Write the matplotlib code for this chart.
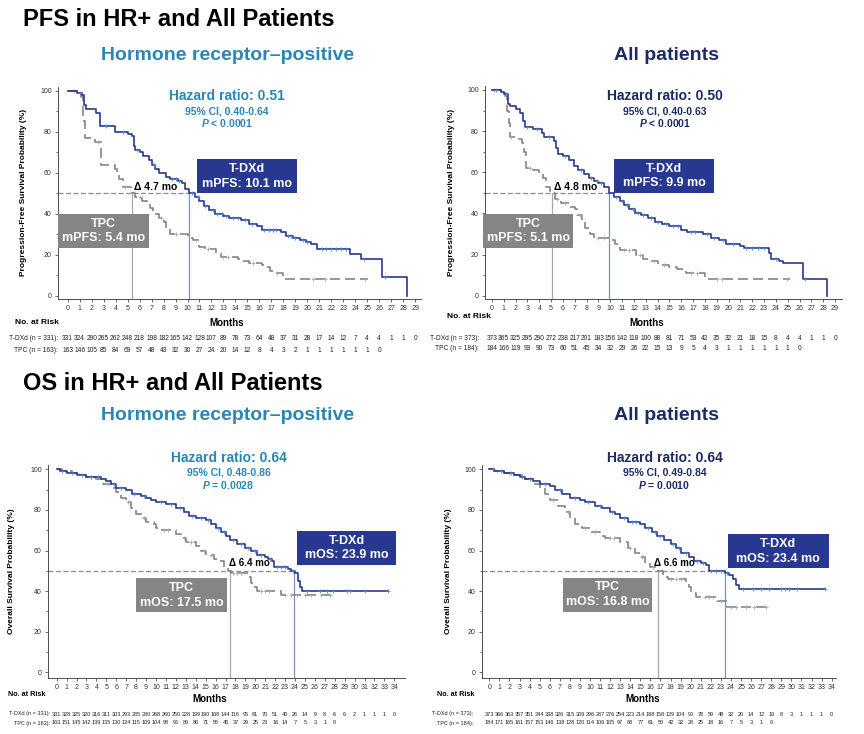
import matplotlib
matplotlib.use("Agg")
import matplotlib.pyplot as plt
import matplotlib.transforms as mtransforms
from matplotlib.patches import Rectangle
import numpy as np

plt.rcParams["font.family"] = ["Liberation Sans", "DejaVu Sans"]
plt.rcParams["mathtext.fontset"] = "custom"
plt.rcParams["mathtext.it"] = "Liberation Sans:bold:italic"
plt.rcParams["mathtext.rm"] = "Liberation Sans:bold"

# ---- PFS, HR+ ----
pfs_hr_tdxd_t = [0, 0.8, 1.2, 1.35, 1.5, 2.4, 2.7, 3.95, 5.0, 5.35, 5.5, 5.6, 6.0, 6.3, 6.8, 7.0, 7.3, 7.6,
                 8.2, 8.5, 9.2, 9.5, 9.8, 10.1, 10.6, 11.0, 11.4, 11.8, 12.3, 13.0, 13.5, 14.5, 15.1, 15.8,
                 16.2, 17.8, 18.2, 18.8, 19.4, 19.9, 20.3, 20.8, 23.6, 24.5, 26.2, 28.3]
pfs_hr_tdxd_s = [100, 99, 98, 93, 91, 89, 83, 80, 79, 78, 73, 71, 70, 68, 66, 64, 62, 60,
                 58, 57, 56, 55, 52, 50, 48, 46, 44, 42, 40, 39, 38, 37, 35, 34,
                 32, 31, 29, 28, 27, 26, 25, 23, 20.5, 18, 9, 0]
pfs_hr_tpc_t = [0, 1.15, 1.3, 1.45, 2.3, 2.8, 3.95, 4.1, 4.3, 4.6, 5.3, 5.4, 5.6, 6.2, 6.6, 6.9, 7.1, 7.6,
                8.0, 8.2, 8.5, 10.0, 10.2, 10.5, 11.0, 11.5, 12.4, 12.8, 14.2, 14.6, 15.1, 16.2, 16.6,
                16.9, 17.2, 18.0, 25.1]
pfs_hr_tpc_s = [100, 97, 85, 77, 75, 64, 62, 60, 57, 53, 52, 50, 48, 46, 45, 43, 40, 38,
                36, 33, 30, 29, 28, 27, 24, 23, 21, 19, 18, 17, 16, 15, 14,
                12, 11, 8, 8]
pfs_hr_tdxd_cens = [1.0, 3.2, 4.6, 5.8, 7.2, 8.7, 9.0, 9.3, 10.4, 10.9, 11.5, 12.1, 12.5, 12.9, 13.2, 13.8,
                    14.2, 14.8, 15.4, 16.4, 16.8, 17.1, 17.4, 18.4, 18.6, 19.0, 19.6, 20.0, 21.2, 21.6,
                    22.0, 22.4, 22.8, 23.2, 24.7, 26.5]
pfs_hr_tpc_cens = [0.5, 2.5, 4.8, 6.0, 7.8, 9.0, 10.7, 11.7, 13.0, 13.4, 15.5, 17.5, 20.5, 21.5, 24.8]
pfs_hr_risk_tdxd = [331, 324, 290, 265, 262, 248, 218, 198, 182, 165, 142, 128, 107, 89, 78, 73, 64, 48, 37,
                    31, 28, 17, 14, 12, 7, 4, 4, 1, 1, 0]
pfs_hr_risk_tpc = [163, 146, 105, 85, 84, 69, 57, 48, 43, 32, 30, 27, 24, 20, 14, 12, 8, 4, 3, 2, 1, 1, 1,
                   1, 1, 1, 0]

# ---- PFS, all patients ----
pfs_all_tdxd_t = [0, 0.8, 1.0, 1.35, 1.5, 2.0, 2.4, 2.6, 2.8, 3.5, 4.2, 4.4, 5.2, 5.4, 5.6, 6.0, 6.5, 6.9,
                  7.3, 7.8, 8.2, 8.6, 9.0, 9.5, 9.9, 10.3, 10.8, 11.2, 11.6, 12.1, 12.6, 13.2, 13.8, 14.4,
                  15.0, 16.0, 16.5, 17.8, 18.5, 19.2, 19.8, 21.0, 21.3, 23.4, 23.6, 24.3, 24.6, 26.3, 28.3]
pfs_all_tdxd_s = [100, 99, 98, 93, 92, 91, 89, 85, 82, 81, 79, 77, 75, 72, 69, 68, 66, 63,
                  61, 59, 57, 56, 55, 53, 50, 48, 46, 44, 42, 40, 39, 38, 36, 35,
                  34, 32, 31, 30, 28, 27, 25, 24, 23, 21, 18, 17, 16, 8, 0]
pfs_all_tpc_t = [0, 1.1, 1.25, 1.4, 1.5, 2.3, 2.5, 2.7, 2.9, 3.5, 4.0, 4.3, 4.6, 4.9, 5.1, 5.3, 5.8, 6.5,
                 7.0, 7.2, 7.6, 7.9, 8.3, 8.6, 10.0, 10.4, 10.8, 12.2, 12.8, 13.4, 14.0, 15.0, 15.6,
                 16.4, 18.0, 25.2]
pfs_all_tpc_s = [100, 97, 90, 84, 77, 76, 74, 70, 62, 61, 60, 57, 53, 51, 50, 47, 45, 43,
                 42, 39, 36, 33, 30, 28, 27, 25, 22, 20, 18, 17, 15, 14, 13,
                 11, 8, 8]
pfs_all_tdxd_cens = [0.3, 1.2, 3.0, 3.8, 4.8, 6.2, 7.5, 8.4, 8.9, 9.2, 10.5, 11.0, 11.4, 11.9, 12.3, 12.8,
                     13.4, 14.0, 14.7, 15.3, 15.7, 16.8, 17.2, 18.2, 18.8, 19.5, 20.4, 21.5, 22.0, 22.5,
                     23.0, 24.0, 26.5]
pfs_all_tpc_cens = [0.2, 1.6, 3.2, 5.5, 6.2, 7.4, 9.0, 9.5, 11.2, 11.6, 12.5, 13.7, 14.5, 16.8, 17.3,
                    19.0, 19.4, 24.9]
pfs_all_risk_tdxd = [373, 365, 325, 295, 290, 272, 238, 217, 201, 183, 156, 142, 118, 100, 88, 81, 71, 53,
                     42, 35, 32, 21, 18, 15, 8, 4, 4, 1, 1, 0]
pfs_all_risk_tpc = [184, 166, 119, 93, 90, 73, 60, 51, 45, 34, 32, 29, 26, 22, 15, 13, 9, 5, 4, 3, 1, 1, 1,
                    1, 1, 1, 0]

# ---- OS, HR+ ----
os_hr_tdxd_t = [0, 0.3, 1.0, 2.0, 3.0, 4.5, 5.0, 5.5, 6.0, 7.0, 7.6, 8.5, 9.0, 9.5, 10.0, 11.0, 12.0, 12.8,
                13.3, 14.0, 15.0, 15.5, 16.0, 16.5, 17.0, 17.5, 18.2, 19.0, 19.6, 20.2, 21.0, 21.3, 21.7,
                21.9, 23.3, 23.6, 24.0, 24.3, 24.5, 24.7, 33.4]
os_hr_tdxd_s = [100, 99, 98, 97, 96, 95, 94, 93, 91, 90, 88, 87, 86, 85, 84, 83, 81, 79,
                77, 76, 75, 73, 71, 69, 67, 65, 63, 61, 60, 58, 57, 56, 55,
                52, 51, 50, 49, 45, 42, 40, 40]
os_hr_tpc_t = [0, 0.5, 1.5, 2.5, 3.0, 4.0, 4.7, 5.5, 6.0, 6.5, 7.0, 7.5, 8.0, 8.5, 9.0, 9.8, 10.0, 10.5,
               12.0, 12.5, 13.0, 14.0, 14.5, 15.0, 15.8, 16.2, 16.8, 17.3, 17.6, 19.3, 19.6, 19.9, 20.2,
               22.6, 28.0]
os_hr_tpc_s = [100, 99, 98, 97, 96, 95, 93, 91, 89, 86, 84, 81, 78, 76, 74, 73, 71, 70,
               68, 66, 64, 62, 60, 58, 56, 55, 52, 50, 49, 47, 44, 42, 40,
               38, 38]
os_hr_tdxd_cens = [0.5, 1.5, 2.5, 3.5, 4.2, 5.8, 6.5, 7.8, 8.8, 10.5, 11.5, 12.4, 13.6, 14.5, 15.2, 16.2,
                   16.8, 17.8, 18.6, 19.3, 20.0, 20.6, 21.5, 22.2, 22.6, 23.0, 23.8, 25.2, 26.5, 27.2,
                   27.8, 29.2, 29.5, 31.0, 33.4]
os_hr_tpc_cens = [0.8, 2.0, 3.5, 5.2, 7.2, 8.8, 10.8, 11.2, 12.8, 13.5, 14.8, 15.5, 17.8, 18.2, 18.6,
                  20.6, 21.0, 21.4, 23.0, 23.6, 24.2, 25.0, 25.6, 26.6, 27.5]
os_hr_risk_tdxd = [331, 328, 325, 320, 316, 311, 303, 293, 285, 280, 268, 260, 250, 228, 199, 190, 168, 144,
                   116, 95, 81, 70, 51, 40, 26, 14, 9, 8, 6, 6, 2, 1, 1, 1, 0]
os_hr_risk_tpc = [163, 151, 145, 142, 139, 135, 130, 124, 115, 109, 104, 98, 96, 89, 80, 71, 56, 45, 37,
                  29, 25, 23, 16, 14, 7, 5, 3, 1, 0]

# ---- OS, all patients ----
os_all_tdxd_t = [0, 0.5, 1.5, 2.5, 3.0, 3.5, 4.3, 5.0, 6.0, 6.5, 7.2, 8.0, 9.0, 9.5, 10.5, 11.2, 12.0, 12.5,
                 13.0, 13.8, 15.0, 15.5, 16.2, 16.7, 17.3, 18.0, 18.5, 19.0, 19.8, 20.3, 21.0, 21.5, 21.8,
                 23.4, 23.8, 24.2, 24.5, 24.8, 33.3]
os_all_tdxd_s = [100, 99, 98, 97, 96, 95, 94, 93, 92, 90, 88, 86, 85, 84, 82, 81, 79, 78,
                 76, 74, 73, 71, 69, 67, 65, 63, 61, 59, 57, 55, 54, 53, 50,
                 49, 48, 46, 43, 41, 41]
os_all_tpc_t = [0, 0.5, 1.5, 2.5, 3.3, 4.5, 5.0, 5.5, 6.0, 6.8, 7.5, 8.0, 8.5, 9.2, 10.0, 11.0, 11.5, 13.0,
                13.8, 14.5, 15.0, 15.5, 16.0, 16.8, 17.2, 17.7, 19.5, 19.8, 20.0, 20.5, 22.6, 23.6, 28.0]
os_all_tpc_s = [100, 99, 98, 97, 95, 93, 91, 88, 85, 82, 79, 76, 73, 71, 69, 67, 66, 64,
                61, 59, 57, 54, 52, 50, 47, 46, 44, 42, 39, 37, 35, 32, 32]
os_all_tdxd_cens = [0.4, 1.2, 2.2, 3.2, 4.0, 5.5, 7.0, 8.5, 9.8, 11.0, 12.2, 13.4, 14.2, 14.6, 15.8, 16.5,
                    17.0, 18.2, 18.8, 19.5, 20.6, 21.2, 22.0, 22.5, 23.0, 23.6, 25.2, 26.2, 27.0, 27.8,
                    29.0, 29.4, 29.8, 30.6, 33.3]
os_all_tpc_cens = [0.8, 2.0, 3.0, 4.0, 6.3, 7.8, 9.5, 10.5, 12.0, 12.4, 14.0, 15.2, 16.3, 18.0, 18.5,
                   19.0, 21.4, 21.8, 22.2, 23.0, 24.0, 24.5, 25.5, 26.3, 27.5]
os_all_risk_tdxd = [373, 366, 363, 357, 351, 344, 338, 326, 315, 309, 296, 287, 276, 254, 223, 214, 188,
                    158, 129, 104, 90, 78, 59, 48, 32, 20, 14, 12, 10, 8, 3, 1, 1, 1, 0]
os_all_risk_tpc = [184, 171, 165, 161, 157, 153, 146, 138, 128, 120, 114, 106, 105, 97, 88, 77, 61, 50, 42,
                   32, 28, 25, 18, 16, 7, 5, 3, 1, 0]

W, H = 864, 734
NAVY = "#283891"
NAVY_CENS = "#4f86c9"
GRAY = "#858585"
GRAY_CENS = "#a8a8a8"
HRBLUE = "#2b86b8"
ALLNAVY = "#1c2b66"

fig = plt.figure(figsize=(W / 100, H / 100), dpi=100)


def make_axes(px0, sx, py100, py0, xlim, ylim):
    sy = (py0 - py100) / 100.0
    left = px0 + xlim[0] * sx
    right = px0 + xlim[1] * sx
    top = py0 - ylim[1] * sy
    bottom = py0 - ylim[0] * sy
    ax = fig.add_axes([left / W, 1 - bottom / H, (right - left) / W, (bottom - top) / H])
    ax.set_xlim(*xlim)
    ax.set_ylim(*ylim)
    for sp in ("top", "right"):
        ax.spines[sp].set_visible(False)
    for sp in ("left", "bottom"):
        ax.spines[sp].set_linewidth(0.6)
        ax.spines[sp].set_color("#333333")
    ax.set_yticks(range(0, 101, 20))
    ax.set_yticks(range(10, 100, 20), minor=True)
    ax.tick_params(axis="both", which="major", labelsize=5, length=2.5, width=0.5,
                   colors="#333333", pad=2)
    ax.tick_params(axis="y", which="minor", length=1.5, width=0.5, colors="#333333")
    return ax


def ystep(t, s, x):
    i = np.searchsorted(np.asarray(t), np.asarray(x), side="right") - 1
    return np.asarray(s)[i]


def draw_panel(ax, tdxd, tpc, med_tpc, med_tdxd):
    t1, s1, c1 = tdxd
    t2, s2, c2 = tpc
    # median guide lines
    ax.plot([ax.get_xlim()[0], med_tdxd], [50, 50], color="#8c8c8c", lw=0.9,
            dashes=(4, 2), zorder=1)
    ax.plot([med_tpc, med_tpc], [ax.get_ylim()[0], 50], color="#a8a8a8", lw=0.9, zorder=1)
    ax.plot([med_tdxd, med_tdxd], [ax.get_ylim()[0], 50], color="#7f90b8", lw=0.9, zorder=1)
    ax.step(t2, s2, where="post", color=GRAY, lw=1.2, dashes=(6, 3), zorder=2)
    ax.plot(c2, ystep(t2, s2, c2), "+", color=GRAY_CENS, ms=3, mew=0.6, zorder=3)
    ax.step(t1, s1, where="post", color=NAVY, lw=1.2, zorder=4)
    ax.plot(c1, ystep(t1, s1, c1), "+", color=NAVY_CENS, ms=3, mew=0.6, zorder=5)


def add_box(ax, x0, x1, y0, y1, color, txt, size):
    ax.add_patch(Rectangle((x0, y0), x1 - x0, y1 - y0, facecolor=color, edgecolor="none",
                           clip_on=False, zorder=6))
    ax.text((x0 + x1) / 2, (y0 + y1) / 2, txt, color="white", fontsize=size, fontweight="bold",
            ha="center", va="center", linespacing=1.3, zorder=7, clip_on=False)


def add_hr(ax, x, ys, hr, ci, p, color, sizes):
    ax.text(x, ys[0], hr, color=color, fontsize=sizes[0], fontweight="bold", ha="center", va="center")
    ax.text(x, ys[1], ci, color=color, fontsize=sizes[1], fontweight="bold", ha="center", va="center")
    ax.text(x, ys[2], p, color=color, fontsize=sizes[1], fontweight="bold", ha="center", va="center")


def risk_table(ax, xlab_px, rows_px, label_px, months_px, counts, labels, size):
    tr = mtransforms.blended_transform_factory(ax.transData, fig.transFigure)
    for yy, cnt, lab in zip(rows_px, counts, labels):
        for m, v in enumerate(cnt):
            ax.text(m, 1 - yy / H, str(v), transform=tr, fontsize=size, ha="center", va="center",
                    color="#222222", clip_on=False)
        fig.text(xlab_px / W, 1 - yy / H, lab, fontsize=size, ha="right", va="center", color="#222222")
    fig.text(label_px[0] / W, 1 - label_px[1] / H, "No. at Risk", fontsize=size + 1.2,
             fontweight="bold", ha="left", va="center")
    fig.text(months_px[0] / W, 1 - months_px[1] / H, "Months", fontsize=7, fontweight="bold",
             ha="center", va="center")


# section titles
fig.text(23 / W, 1 - 20 / H, "PFS in HR+ and All Patients", fontsize=17, fontweight="bold", va="center")
fig.text(23 / W, 1 - 383 / H, "OS in HR+ and All Patients", fontsize=17, fontweight="bold", va="center")
for yy in (55, 415):
    fig.text(228 / W, 1 - yy / H, "Hormone receptor–positive", fontsize=14, fontweight="bold",
             color=HRBLUE, ha="center", va="center")
    fig.text(666 / W, 1 - yy / H, "All patients", fontsize=14, fontweight="bold",
             color=ALLNAVY, ha="center", va="center")

# ---- top-left ----
ax = make_axes(67.7, 11.98, 90.7, 295.7, (-0.8, 29.5), (-1.6, 102))
ax.set_xticks(range(0, 30))
draw_panel(ax, (pfs_hr_tdxd_t, pfs_hr_tdxd_s, pfs_hr_tdxd_cens),
           (pfs_hr_tpc_t, pfs_hr_tpc_s, pfs_hr_tpc_cens), 5.4, 10.1)
add_box(ax, 10.77, 19.1, 49.9, 66.5, NAVY, "T-DXd\nmPFS: 10.1 mo", 9)
add_box(ax, -0.78, 6.79, 23.4, 39.7, GRAY, "TPC\nmPFS: 5.4 mo", 9)
ax.text(7.35, 52.8, "Δ 4.7 mo", fontsize=7.5, fontweight="bold", ha="center", va="center")
add_hr(ax, 13.3, (97.6, 89.8, 84.2), "Hazard ratio: 0.51", "95% CI, 0.40-0.64", "$P$ < 0.0001",
       HRBLUE, (10, 7.5))
ax.set_ylabel("Progression-Free Survival Probability (%)", fontsize=6, fontweight="bold")
ax.yaxis.set_label_coords((27 - 58) / 363, 0.5)
risk_table(ax, 58, (339, 350), (15, 323), (227, 323), (pfs_hr_risk_tdxd, pfs_hr_risk_tpc),
           ("T-DXd (n = 331):", "TPC (n = 163):"), 4.8)

# ---- top-right ----
ax = make_axes(492, 11.83, 90, 295.7, (-0.6, 29.6), (-1.6, 102))
ax.set_xticks(range(0, 30))
draw_panel(ax, (pfs_all_tdxd_t, pfs_all_tdxd_s, pfs_all_tdxd_cens),
           (pfs_all_tpc_t, pfs_all_tpc_s, pfs_all_tpc_cens), 5.1, 9.9)
add_box(ax, 10.3, 18.8, 49.8, 66.5, NAVY, "T-DXd\nmPFS: 9.9 mo", 9)
add_box(ax, -0.79, 6.88, 23.3, 39.5, GRAY, "TPC\nmPFS: 5.1 mo", 9)
ax.text(7.1, 52.7, "Δ 4.8 mo", fontsize=7.5, fontweight="bold", ha="center", va="center")
add_hr(ax, 14.6, (97.1, 89.5, 83.8), "Hazard ratio: 0.50", "95% CI, 0.40-0.63", "$P$ < 0.0001",
       ALLNAVY, (10, 7.5))
ax.set_ylabel("Progression-Free Survival Probability (%)", fontsize=6, fontweight="bold")
ax.yaxis.set_label_coords((455 - 485) / 358, 0.5)
risk_table(ax, 479, (338, 349), (447, 317), (647, 323), (pfs_all_risk_tdxd, pfs_all_risk_tpc),
           ("T-DXd (n = 373):", "TPC (n = 184):"), 4.8)

# ---- bottom-left ----
ax = make_axes(56.7, 9.93, 469.3, 672.3, (-0.88, 35.1), (-2.8, 102))
ax.set_xticks(range(0, 35))
draw_panel(ax, (os_hr_tdxd_t, os_hr_tdxd_s, os_hr_tdxd_cens),
           (os_hr_tpc_t, os_hr_tpc_s, os_hr_tpc_cens), 17.5, 23.9)
add_box(ax, 24.2, 34.2, 52.9, 69.6, NAVY, "T-DXd\nmOS: 23.9 mo", 9)
add_box(ax, 8.0, 17.1, 29.6, 46.3, GRAY, "TPC\nmOS: 17.5 mo", 9)
ax.text(19.4, 53.7, "Δ 6.4 mo", fontsize=7, fontweight="bold", ha="center", va="center")
add_hr(ax, 17.3, (105.4, 98.4, 92.3), "Hazard ratio: 0.64", "95% CI, 0.48-0.86", "$P$ = 0.0028",
       HRBLUE, (10, 7.5))
ax.set_ylabel("Overall Survival Probability (%)", fontsize=6, fontweight="bold")
ax.yaxis.set_label_coords((15 - 48) / 357, 0.5)
risk_table(ax, 50, (714, 723), (8, 695), (210, 699), (os_hr_risk_tdxd, os_hr_risk_tpc),
           ("T-DXd (n = 331):", "TPC (n = 163):"), 4)

# ---- bottom-right ----
ax = make_axes(489.3, 10.07, 469.3, 672.3, (-0.72, 34.4), (-2.8, 102))
ax.set_xticks(range(0, 35))
draw_panel(ax, (os_all_tdxd_t, os_all_tdxd_s, os_all_tdxd_cens),
           (os_all_tpc_t, os_all_tpc_s, os_all_tpc_cens), 16.8, 23.4)
add_box(ax, 23.7, 33.7, 51.2, 68.1, NAVY, "T-DXd\nmOS: 23.4 mo", 9)
add_box(ax, 7.3, 16.2, 29.9, 46.6, GRAY, "TPC\nmOS: 16.8 mo", 9)
ax.text(18.35, 53.7, "Δ 6.6 mo", fontsize=7, fontweight="bold", ha="center", va="center")
add_hr(ax, 17.4, (105.4, 98.4, 92.3), "Hazard ratio: 0.64", "95% CI, 0.49-0.84", "$P$ = 0.0010",
       ALLNAVY, (10, 7.5))
ax.set_ylabel("Overall Survival Probability (%)", fontsize=6, fontweight="bold")
ax.yaxis.set_label_coords((452 - 482) / 353, 0.5)
risk_table(ax, 473, (714, 723), (437, 695), (643, 699), (os_all_risk_tdxd, os_all_risk_tpc),
           ("T-DXd (n = 373):", "TPC (n = 184):"), 4)

fig.savefig("out.png", dpi=100)
